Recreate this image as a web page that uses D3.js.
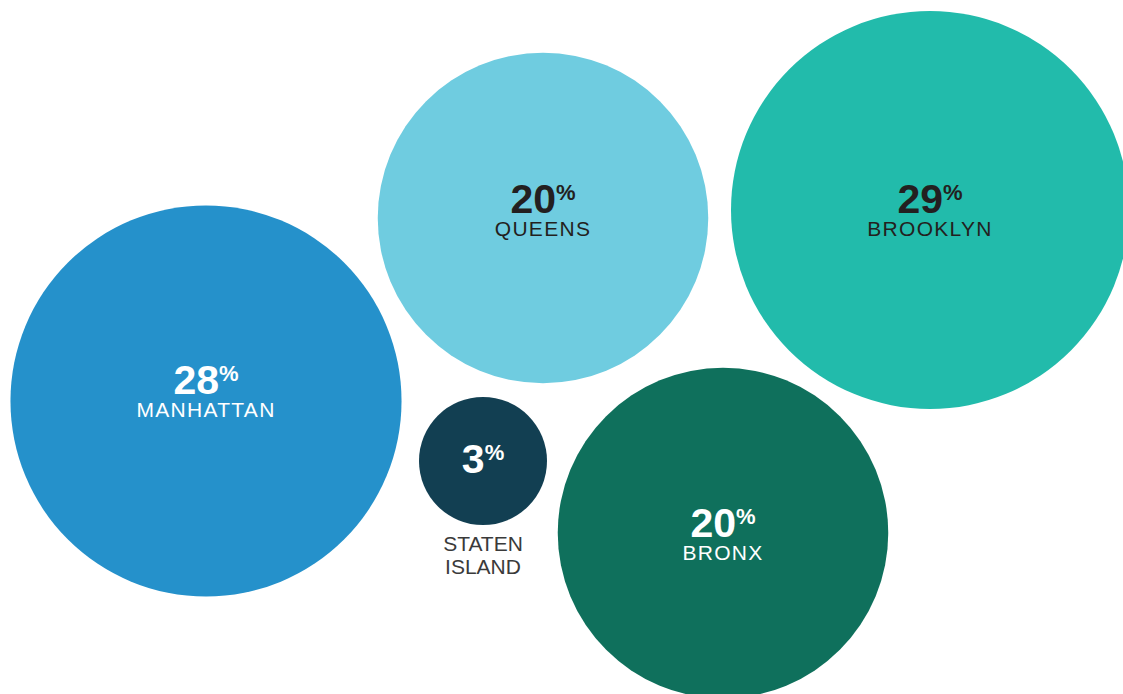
<!DOCTYPE html>
<html>
<head>
<meta charset="utf-8">
<script src="https://cdn.jsdelivr.net/npm/d3@7"></script>
<style>
  html, body { margin: 0; padding: 0; background: #fff; }
  svg { display: block; font-family: "Liberation Sans", Arial, sans-serif; }
</style>
</head>
<body>
<div id="chart"></div>
<script>
// share of total by borough
const boroughs = ["MANHATTAN", "QUEENS", "BROOKLYN", "STATEN ISLAND", "BRONX"];
const shares = [28, 20, 29, 3, 20];

const width = 1123, height = 694;

// layout: where each bubble sits, and where its text baseline goes
const layout = {
  "MANHATTAN":     {cx: 206, cy: 401, numDy: -7,  fill: "#2591cb", ink: "#ffffff"},
  "QUEENS":        {cx: 543, cy: 218, numDy: -5,  fill: "#6fcce0", ink: "#231f20"},
  "BROOKLYN":      {cx: 930, cy: 210, numDy: 3,   fill: "#22bbab", ink: "#231f20"},
  "STATEN ISLAND": {cx: 483, cy: 461, numDy: 12,  fill: "#123f52", ink: "#ffffff", outside: true},
  "BRONX":         {cx: 723, cy: 533, numDy: 4,   fill: "#0f705c", ink: "#ffffff"}
};

const data = boroughs.map((b, i) => ({name: b, value: shares[i]}));

// bubble area proportional to share
const r = d3.scaleSqrt()
  .domain([0, d3.max(shares)])
  .range([0, 199]);

const svg = d3.select("#chart")
  .append("svg")
  .attr("width", width)
  .attr("height", height)
  .attr("viewBox", `0 0 ${width} ${height}`);

const g = svg.selectAll(".bubble")
  .data(data)
  .enter()
  .append("g")
  .attr("class", "bubble")
  .attr("transform", d => `translate(${layout[d.name].cx},${layout[d.name].cy})`);

g.append("circle")
  .attr("r", d => r(d.value))
  .attr("fill", d => layout[d.name].fill);

// big number with small raised percent sign
const num = g.append("text")
  .attr("text-anchor", "middle")
  .attr("y", d => layout[d.name].numDy)
  .attr("fill", d => layout[d.name].ink)
  .style("font-weight", "bold");

num.append("tspan")
  .style("font-size", "41px")
  .text(d => d.value);
num.append("tspan")
  .style("font-size", "22px")
  .attr("dy", -13)
  .text("%");

// name label, inside or under the bubble
g.filter(d => !layout[d.name].outside)
  .append("text")
  .attr("text-anchor", "middle")
  .attr("y", d => layout[d.name].numDy + 23)
  .attr("fill", d => layout[d.name].ink)
  .style("font-size", "21px")
  .style("letter-spacing", "1.3px")
  .text(d => d.name);

const outer = g.filter(d => layout[d.name].outside)
  .append("text")
  .attr("text-anchor", "middle")
  .attr("fill", "#3a3a3a")
  .style("font-size", "21px");

outer.selectAll("tspan")
  .data(d => d.name.split(" ").map(w => ({w, rr: r(d.value)})))
  .enter()
  .append("tspan")
  .attr("x", 0)
  .attr("y", (d, i) => d.rr + 26 + i * 23)
  .text(d => d.w);
</script>
</body>
</html>
